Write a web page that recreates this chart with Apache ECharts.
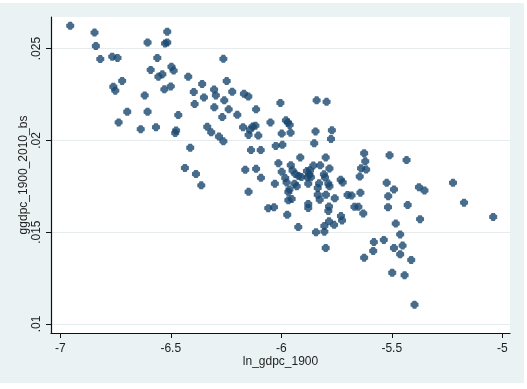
<!DOCTYPE html>
<html>
<head>
<meta charset="utf-8">
<script src="https://cdn.jsdelivr.net/npm/echarts@6/dist/echarts.min.js"></script>
<style>
html,body{margin:0;padding:0;background:#ffffff;}
#c{width:527px;height:389px;}
</style>
</head>
<body>
<div id="c"></div>
<script>
// ln_gdpc_1900 values
const lnGdpc1900 = [
-6.955,-6.845,-6.839,-6.819,-6.765,-6.741,-6.760,-6.751,-6.720,-6.736,
-6.697,-6.636,-6.618,-6.605,-6.605,-6.591,-6.567,-6.561,-6.556,-6.538,
-6.529,-6.526,-6.516,-6.516,-6.500,-6.497,-6.487,-6.480,-6.476,-6.466,
-6.436,-6.421,-6.412,-6.396,-6.392,-6.386,-6.362,-6.358,-6.350,-6.335,
-6.317,-6.304,-6.296,-6.303,-6.282,-6.262,-6.267,-6.258,-6.262,-6.247,
-6.238,-6.222,-6.199,-6.169,-6.149,-6.173,-6.163,-6.148,-6.148,-6.142,
-6.129,-6.117,-6.104,-6.137,-6.114,-6.114,-6.093,-6.092,-6.049,-6.004,
-5.979,-5.970,-5.962,-5.998,-5.958,-6.025,-5.995,-5.840,-5.795,-5.845,
-5.771,-5.775,-5.851,-5.914,-5.799,-5.625,-5.620,-5.639,-5.616,-5.510,
-5.433,-6.013,-5.998,-5.957,-5.982,-5.976,-6.029,-5.949,-5.936,-5.922,
-5.909,-5.884,-5.870,-5.872,-5.866,-5.882,-5.855,-5.824,-5.782,-5.807,
-5.802,-5.940,-5.930,-5.878,-5.829,-5.835,-5.787,-5.782,-5.731,-5.722,
-5.963,-5.968,-5.953,-5.968,-5.835,-5.798,-5.826,-5.758,-5.700,-5.682,
-5.642,-5.878,-5.878,-5.784,-5.787,-6.059,-6.033,-5.669,-5.651,-5.629,
-5.973,-5.923,-5.843,-5.805,-5.805,-5.784,-5.761,-5.730,-5.725,-5.799,
-5.645,-5.523,-5.490,-5.516,-5.517,-5.377,-5.352,-5.223,-5.173,-5.041,
-5.428,-5.372,-5.482,-5.462,-5.581,-5.536,-5.451,-5.584,-5.490,-5.462,
-5.412,-5.625,-5.498,-5.442,-5.397
];
// ggdpc_1900_2010_bs values
const ggdpc19002010bs = [
.02624,.02587,.02514,.02443,.02456,.02449,.02292,.02271,.02324,.02098,
.02156,.02061,.02245,.02156,.02533,.02384,.02072,.02449,.02347,.02360,
.02278,.02528,.02533,.02592,.02294,.02401,.02380,.02040,.02054,.02138,
.01850,.02347,.01960,.02264,.02198,.01817,.01755,.02307,.02234,.02074,
.02044,.02277,.02245,.02180,.02021,.01995,.02127,.02218,.02444,.02323,
.02169,.02265,.02139,.02254,.02239,.02072,.01840,.01720,.02030,.02058,
.02076,.02080,.02026,.01947,.02169,.01845,.01947,.01796,.02098,.02204,
.02109,.02098,.02084,.02037,.02042,.01970,.01976,.02218,.02210,.02049,
.02055,.02008,.01984,.01907,.01907,.01930,.01886,.01848,.01841,.01919,
.01893,.01876,.01829,.01865,.01795,.01771,.01764,.01836,.01817,.01806,
.01801,.01833,.01837,.01814,.01799,.01799,.01863,.01864,.01847,.01815,
.01798,.01764,.01750,.01764,.01766,.01741,.01765,.01750,.01786,.01771,
.01733,.01719,.01681,.01674,.01704,.01704,.01677,.01685,.01703,.01700,
.01715,.01654,.01632,.01640,.01616,.01631,.01636,.01638,.01638,.01602,
.01595,.01528,.01500,.01503,.01534,.01559,.01540,.01588,.01564,.01414,
.01803,.01769,.01733,.01696,.01636,.01745,.01727,.01769,.01661,.01583,
.01648,.01571,.01547,.01488,.01446,.01458,.01427,.01398,.01414,.01380,
.01349,.01361,.01279,.01266,.01105
];
const xTicks = [-7, -6.5, -6, -5.5, -5];
const yTicks = [0.01, 0.015, 0.02, 0.025];
const xName = 'ln_gdpc_1900';
const yName = 'ggdpc_1900_2010_bs';

const points = lnGdpc1900.map((x, i) => [x, ggdpc19002010bs[i]]);
const txt = '#1e1e1e';
const fontFamily = 'Liberation Sans, Arial, sans-serif';

const chart = echarts.init(document.getElementById('c'), null, {renderer: 'canvas'});
chart.setOption({
  animation: false,
  backgroundColor: '#ffffff',
  graphic: [{
    type: 'rect', z: -10, silent: true,
    shape: {x: 0, y: 3, width: 524, height: 380},
    style: {fill: '#eaf2f3'}
  }],
  grid: {
    left: 51, top: 17, right: 17, bottom: 56,
    show: true, backgroundColor: '#ffffff', borderWidth: 0
  },
  xAxis: {
    type: 'value', min: -7.042, max: -4.965,
    name: xName, nameLocation: 'middle', nameGap: 23, nameMoveOverlap: false,
    nameTextStyle: {color: txt, fontSize: 12, fontFamily: fontFamily},
    axisLine: {show: true, onZero: false, lineStyle: {color: '#111', width: 1.2}},
    axisTick: {show: true, length: 5, customValues: xTicks, lineStyle: {color: '#111'}},
    axisLabel: {customValues: xTicks, margin: 10, color: txt, fontSize: 12, fontFamily: fontFamily,
      formatter: v => String(v)},
    splitLine: {show: false}
  },
  yAxis: {
    type: 'value', min: 0.00951, max: 0.02672,
    name: yName, nameLocation: 'middle', nameGap: 21, nameRotate: 90, nameMoveOverlap: false,
    nameTextStyle: {color: txt, fontSize: 12, fontFamily: fontFamily},
    axisLine: {show: true, onZero: false, lineStyle: {color: '#111', width: 1.2}},
    axisTick: {show: true, length: 5, customValues: yTicks, lineStyle: {color: '#111'}},
    axisLabel: {customValues: yTicks, rotate: 90, margin: 8, color: txt, fontSize: 12, fontFamily: fontFamily,
      formatter: v => String(+v.toFixed(4)).replace('0.', '.')},
    splitLine: {show: true, lineStyle: {color: '#e6ecee', width: 1}}
  },
  series: [{
    type: 'scatter',
    data: points,
    symbol: 'path://M2,0 L5,0 L5.6,1.4 L7,2 L7,5 L5.6,5.6 L5,7 L2,7 L1.4,5.6 L0,5 L0,2 L1.4,1.4 Z',
    symbolSize: 8,
    itemStyle: {color: '#1a476f'}
  }]
});
</script>
</body>
</html>
